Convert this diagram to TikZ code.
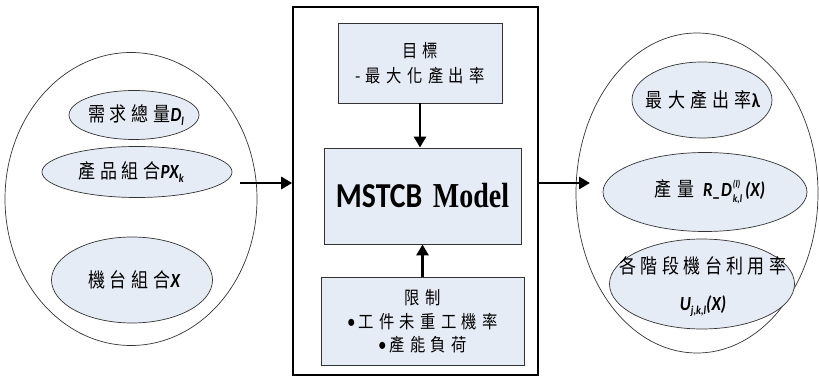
\documentclass[tikz,border=0pt]{standalone}
\usepackage{fontspec}
\usetikzlibrary{arrows.meta,shapes.geometric}
\newfontfamily\cjk[FakeStretch=0.85]{Noto Sans CJK TC}
\newfontfamily\carl[FakeStretch=0.85]{Carlito}
\newfontfamily\tnr[FakeStretch=0.8]{Liberation Serif}
\definecolor{boxfill}{HTML}{E6ECF6}
\definecolor{edge}{HTML}{333333}
% bold italic variable with sub/superscripts
\newcommand{\vb}[1]{{\fontsize{20}{20}\selectfont\carl\bfseries\itshape #1}}
\newcommand{\lo}[1]{\raisebox{-4pt}{\fontsize{12}{12}\selectfont\carl\bfseries\itshape #1}}
\newcommand{\hilo}[2]{\makebox[0pt][l]{\raisebox{9pt}{\fontsize{10}{10}\selectfont\carl\bfseries\itshape #1}}\raisebox{-5.5pt}{\fontsize{11}{11}\selectfont\carl\bfseries\itshape #2}}
\newcommand{\cjs}[2]{\fontsize{#1}{#1}\selectfont\cjk\addfontfeature{LetterSpace=#2}}
\newcommand{\bul}{{\carl\fontsize{20}{20}\selectfont •}\,}
\begin{document}
\begin{tikzpicture}[x=1pt,y=-1pt,
  bigell/.style={ellipse,draw=edge,line width=0.7pt,inner sep=0pt},
  smallell/.style={ellipse,draw=edge,line width=0.7pt,fill=boxfill,inner sep=0pt},
  caption/.style={inner sep=0pt,align=center},
  blockbox/.style={rectangle,draw=edge,line width=0.9pt,fill=boxfill,inner sep=0pt,align=center},
  flow/.style={line width=2.8pt,-{Triangle[length=11pt,width=12pt]}}]
\useasboundingbox (0,0) rectangle (819,379);

% left group: inputs
\node[bigell,minimum width=252pt,minimum height=293pt] (lin) at (131,199) {};
\node[smallell,minimum width=130pt,minimum height=49pt] (dem) at (134,115) {};
\node[smallell,minimum width=190pt,minimum height=51pt] (pmix) at (137,172) {};
\node[smallell,minimum width=161pt,minimum height=86pt] (mmix) at (132,280) {};
\node[caption,font=\cjs{20}{24}] (demt) at ([xshift=2pt]dem) {需求總量\vb{D\lo{l}}};
\node[caption,font=\cjs{20}{24}] (pmixt) at ([xshift=-6pt]pmix) {產品組合\vb{PX\lo{k}}};
\node[caption,font=\cjs{20}{24}] (mmixt) at ([xshift=2pt]mmix) {機台組合\vb{X}};

% central model block
\node[rectangle,draw=black,line width=1.6pt,minimum width=245pt,minimum height=368pt,inner sep=0pt] (mbox) at (415.5,191) {};
\node[blockbox,minimum width=164pt,minimum height=80pt,font=\cjs{18}{30}] (goal) at (420,63)
  {目標\\[7pt]-最大化產出率};
\node[blockbox,minimum width=197pt,minimum height=96pt,font=\fontsize{35}{35}\selectfont] (model) at (422.5,196)
  {{\carl\bfseries MSTCB} {\tnr\bfseries Model}};
\node[blockbox,minimum width=203pt,minimum height=88pt,font=\cjs{18}{30}] (cons) at (422.5,321)
  {限制\\[6pt]\bul 工件未重工機率\\[5pt]\bul 產能負荷};

\draw[flow] (goal.south) -- (goal.south |- model.north);
\draw[flow] (cons.north) -- (cons.north |- model.south);

% right group: outputs
\node[bigell,minimum width=242pt,minimum height=320pt] (rout) at (697,193) {};
\node[smallell,minimum width=140pt,minimum height=76pt] (lam) at (702,100) {};
\node[smallell,minimum width=204pt,minimum height=79pt] (qty) at (705,192) {};
\node[smallell,minimum width=185pt,minimum height=90pt] (util) at (702,284) {};
\node[caption,font=\cjs{20}{26}] (lamt) at (703,100)
  {最大產出率{\fontsize{20}{20}\selectfont\carl\bfseries λ}};
\node[caption,font=\cjs{20}{26}] (qtyt) at (710,192)
  {產量 \vb{R\_D\hspace{1pt}\hilo{(l)}{k,l}\hspace{3pt}(X)}};
\node[caption,font=\cjs{20}{22}] (utilt) at (703,287)
  {各階段機台利用率\\[17pt]\vb{U\lo{j,k,l}(X)}};

% connectors between the three groups
\coordinate (lstart) at (240,183);
\coordinate (rend) at (590,183);
\draw[flow] (lstart) -- ([yshift=8pt]mbox.west);
\draw[flow] ([yshift=8pt]mbox.east) -- (rend);
\end{tikzpicture}
\end{document}
